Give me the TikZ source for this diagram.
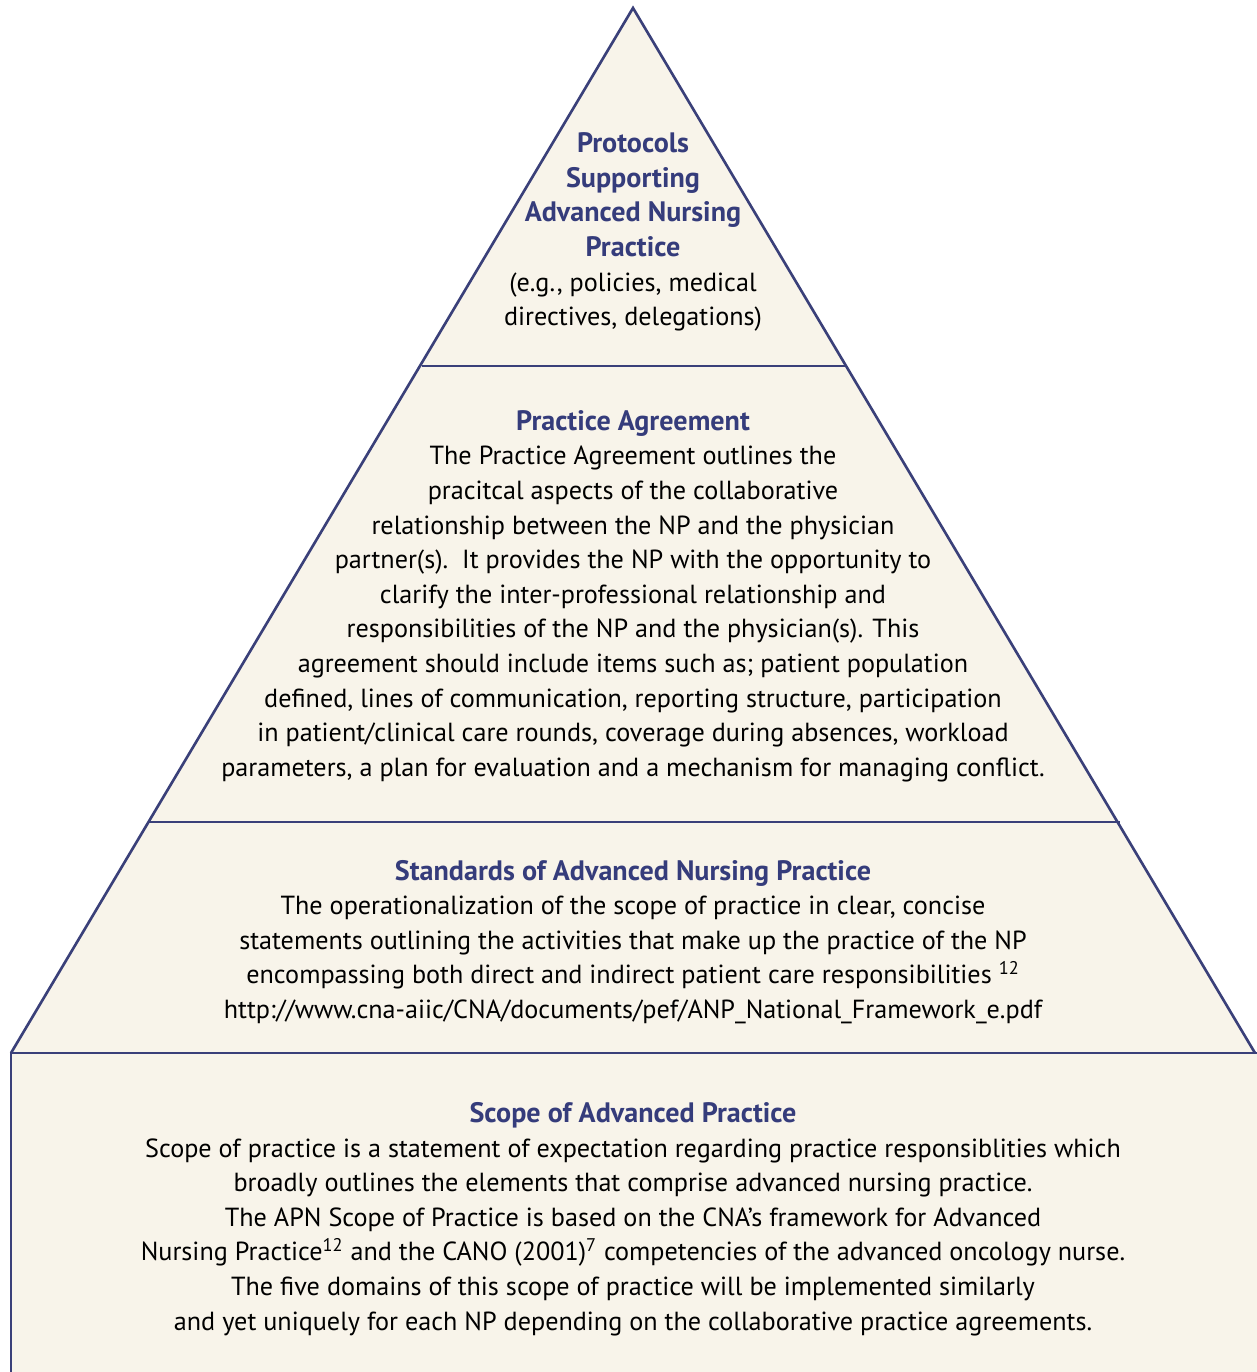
\documentclass[tikz,border=0pt]{standalone}
\usepackage{fontspec}
\setmainfont{PT Sans}
\definecolor{pyrline}{HTML}{3A4079}
\definecolor{pyrfill}{HTML}{F8F4EA}
\definecolor{pyrtitle}{HTML}{353C7B}
\tikzset{
  tier/.style={align=center, font=\fontsize{14.9}{19.7}\selectfont, inner sep=0pt},
  edge/.style={draw=pyrline, line width=1.5pt},
}
\newcommand{\tiername}[1]{{\fontsize{16}{19.7}\selectfont\bfseries\color{pyrtitle}#1}}
\begin{document}
\begin{tikzpicture}[x=0.02cm,y=-0.02cm]
\useasboundingbox (0,0) rectangle (1257,1372);
% base box and pyramid
\coordinate (apex) at (633,8);
\coordinate (bl) at (11,1053);
\coordinate (br) at (1255,1053);
\fill[pyrfill] (11,1053) rectangle (1257,1372);
\fill[pyrfill] (apex)--(bl)--(br)--cycle;
\draw[edge] (11,1372)--(bl)--(1257,1053);
\draw[edge, line join=miter] (bl)--(apex)--(br);
\draw[edge] (422,366)--(846,366);
\draw[edge] (149,822)--(1120,822);
% texts
\node[tier] (protocols) at (633,232) {\tiername{Protocols}\\ \tiername{Supporting}\\
\tiername{Advanced Nursing}\\ \tiername{Practice}\\
(e.g., policies, medical\\ directives, delegations)};
\node[tier] (agreement) at (633,596) {\tiername{Practice Agreement}\\
The Practice Agreement outlines the\\
pracitcal aspects of the collaborative\\
relationship between the NP and the physician\\
partner(s).\ \ It provides the NP with the opportunity to\\
clarify the inter-professional relationship and\\
responsibilities of the NP and the physician(s). This\\
agreement should include items such as; patient population\\
defined, lines of communication, reporting structure, participation\\
in patient/clinical care rounds, coverage during absences, workload\\
parameters, a plan for evaluation and a mechanism for managing conflict.};
\node[tier] (standards) at (633,942) {\tiername{Standards of Advanced Nursing Practice}\\
The operationalization of the scope of practice in clear, concise\\
statements outlining the activities that make up the practice of the NP\\
encompassing both direct and indirect patient care responsibilities \textsuperscript{12}\\
http://www.cna-aiic/CNA/documents/pef/ANP\_National\_Framework\_e.pdf};
\node[tier] (scope) at (633,1219) {\tiername{Scope of Advanced Practice}\\
Scope of practice is a statement of expectation regarding practice responsiblities which\\
broadly outlines the elements that comprise advanced nursing practice.\\
The APN Scope of Practice is based on the CNA's framework for Advanced\\
Nursing Practice\textsuperscript{12} and the CANO (2001)\textsuperscript{7} competencies of the advanced oncology nurse.\\
The five domains of this scope of practice will be implemented similarly\\
and yet uniquely for each NP depending on the collaborative practice agreements.};
\end{tikzpicture}
\end{document}
